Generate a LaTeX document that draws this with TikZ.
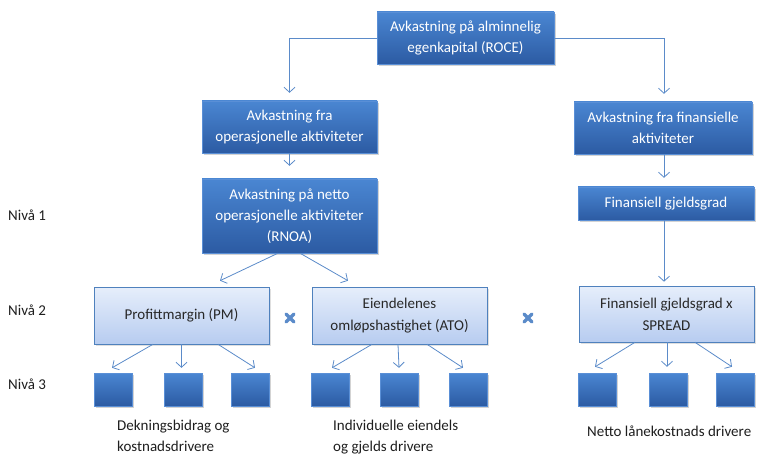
\documentclass[tikz,border=0pt]{standalone}
\usepackage{fontspec}
\setmainfont{Carlito}
\usetikzlibrary{arrows.meta,shadows}
\definecolor{dtop}{HTML}{4A86D2}
\definecolor{dbot}{HTML}{2C5BA3}
\definecolor{dedge}{HTML}{5A8FD6}
\definecolor{ltop}{HTML}{E6EEFB}
\definecolor{lbot}{HTML}{B7CCF0}
\definecolor{ledge}{HTML}{4F81BD}
\definecolor{arrc}{HTML}{5B8BC9}
\tikzset{
  darkbox/.style={draw=dedge, line width=0.4pt, top color=dtop, bottom color=dbot,
    text=white, align=center, inner sep=2pt,
    drop shadow={opacity=0.35, shadow xshift=1.5pt, shadow yshift=-2pt},
    font=\fontsize{15}{21}\selectfont},
  lightbox/.style={draw=ledge, line width=0.6pt, top color=ltop, bottom color=lbot,
    text={rgb,255:red,40;green,40;blue,40}, align=center, inner sep=2pt,
    drop shadow={opacity=0.25, shadow xshift=1.5pt, shadow yshift=-2pt},
    font=\fontsize{15}{22}\selectfont},
  sq/.style={draw=dedge, line width=0.4pt, top color=dtop, bottom color=dbot,
    minimum width=38pt, minimum height=33pt, inner sep=0pt,
    drop shadow={opacity=0.35, shadow xshift=1.5pt, shadow yshift=-2pt}},
  arr/.style={draw=arrc, line width=0.8pt, -{Straight Barb[length=5pt,width=11pt]}},
  lbl/.style={font=\fontsize{15}{21}\selectfont, text={rgb,255:red,30;green,30;blue,30}, inner sep=0pt},
  times/.style={draw=arrc, line width=3.2pt, line cap=round}
}
\begin{document}
\begin{tikzpicture}[x=1pt,y=-1pt]
\useasboundingbox (0,0) rectangle (757,457);

% top level
\node[darkbox, minimum width=177pt, minimum height=52pt] (roce) at (465.5,38) {Avkastning på alminnelig\\egenkapital (ROCE)};
\node[darkbox, minimum width=175pt, minimum height=52pt] (opr) at (289.5,127) {Avkastning fra\\operasjonelle aktiviteter};
\node[darkbox, minimum width=175pt, minimum height=74pt] (rnoa) at (289.5,216) {Avkastning på netto\\operasjonelle aktiviteter\\(RNOA)};
\node[darkbox, minimum width=178pt, minimum height=52pt] (fin) at (663,128) {Avkastning fra finansielle\\aktiviteter};
\node[darkbox, minimum width=176pt, minimum height=33pt] (fgg) at (666,203.5) {Finansiell gjeldsgrad};

% level 2
\node[lightbox, minimum width=175pt, minimum height=57pt] (pm) at (181.5,315.5) {Profittmargin (PM)};
\node[lightbox, minimum width=175pt, minimum height=57pt] (ato) at (399.5,315.5) {Eiendelenes\\omløpshastighet (ATO)};
\node[lightbox, minimum width=175pt, minimum height=56pt] (spr) at (666.5,314) {Finansiell gjeldsgrad x\\SPREAD};

% level 3 squares
\node[sq] (p1) at (113.5,389.5) {};
\node[sq] (p2) at (183.5,389.5) {};
\node[sq] (p3) at (250.5,389.5) {};
\node[sq] (a1) at (330.5,389.5) {};
\node[sq] (a2) at (399,389.5) {};
\node[sq] (a3) at (468.5,389.5) {};
\node[sq] (f1) at (597.5,389.5) {};
\node[sq] (f2) at (668,389.5) {};
\node[sq] (f3) at (735.5,389.5) {};

% level labels
\node[lbl, anchor=west] (n1) at (8,215) {Nivå 1};
\node[lbl, anchor=west] (n2) at (8,310) {Nivå 2};
\node[lbl, anchor=west] (n3) at (8,384) {Nivå 3};

% bottom labels
\node[lbl, anchor=north west, align=left] (t1) at (117,420) {Dekningsbidrag og\\kostnadsdrivere};
\node[lbl, anchor=north west, align=left] (t2) at (333,420) {Individuelle eiendels\\og gjelds drivere};
\node[lbl, anchor=north west, align=left] (t3) at (587,426) {Netto lånekostnads drivere};

% connectors from ROCE
\draw[arr] (roce.west) -| ([yshift=8pt]opr.north);
\draw[arr] (roce.east) -| ([xshift=1pt,yshift=8pt]fin.north);
\draw[arr] (opr.south) -- ([yshift=13pt]rnoa.north);
\coordinate (fx) at ([xshift=1pt]fin.south);
\draw[arr] (fx) -- ([yshift=9pt]fx |- fgg.north);
\draw[arr] (fx |- fgg.south) -- ([yshift=4pt]fx |- spr.north);

% RNOA to level 2
\draw[arr] ([xshift=-11.5pt]rnoa.south) -- ([xshift=38.5pt,yshift=6pt]pm.north);
\draw[arr] ([xshift=10.5pt]rnoa.south) -- ([xshift=-51.5pt,yshift=6pt]ato.north);

% level 2 to level 3
\draw[arr] ([xshift=-28.5pt]pm.south) -- ([xshift=-1.5pt,yshift=5pt]p1.north);
\draw[arr] (pm.south) -- ([yshift=5pt]pm.south |- p2.north);
\draw[arr] ([xshift=36.5pt]pm.south) -- ([xshift=4.5pt,yshift=5pt]p3.north);
\draw[arr] ([xshift=-27.5pt]ato.south) -- ([xshift=1.5pt,yshift=5pt]a1.north);
\draw[arr] ([xshift=-1.5pt]ato.south) -- ([yshift=5pt]a2.north);
\draw[arr] ([xshift=27.5pt]ato.south) -- ([xshift=-5.5pt,yshift=5pt]a3.north);
\draw[arr] ([xshift=-31.5pt]spr.south) -- ([xshift=-2.5pt,yshift=6pt]f1.north);
\draw[arr] ([xshift=0.5pt]spr.south) -- ([xshift=-1pt,yshift=6pt]f2.north);
\draw[arr] ([xshift=28.5pt]spr.south) -- ([xshift=-3.5pt,yshift=6pt]f3.north);

% multiplication marks
\coordinate (x1) at (290,318);
\coordinate (x2) at (528,318);
\foreach \c in {x1,x2}{
  \draw[times] ([xshift=-4pt,yshift=4pt]\c) -- ([xshift=4pt,yshift=-4pt]\c);
  \draw[times] ([xshift=-4pt,yshift=-4pt]\c) -- ([xshift=4pt,yshift=4pt]\c);
}
\end{tikzpicture}
\end{document}
